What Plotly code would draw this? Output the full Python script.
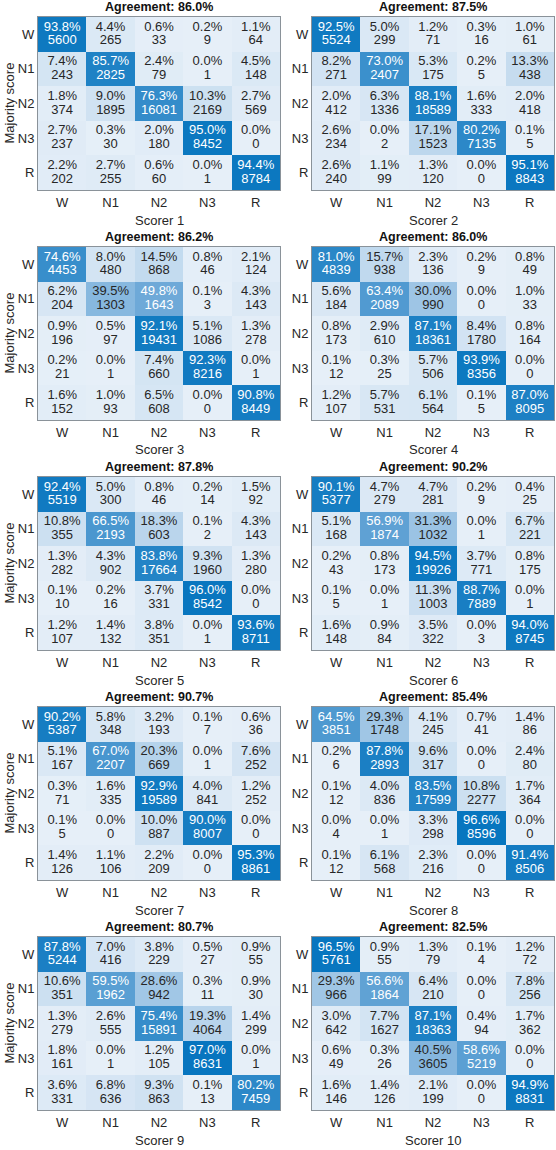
import plotly.graph_objects as go

stages = ["W", "N1", "N2", "N3", "R"]
scorer_names = ["Scorer 1", "Scorer 2", "Scorer 3", "Scorer 4", "Scorer 5",
                "Scorer 6", "Scorer 7", "Scorer 8", "Scorer 9", "Scorer 10"]
agreement = [86.0, 87.5, 86.2, 86.0, 87.8, 90.2, 90.7, 85.4, 80.7, 82.5]

# counts: rows = majority score (W,N1,N2,N3,R), cols = scorer
counts_s1 = [[5600, 265, 33, 9, 64], [243, 2825, 79, 1, 148], [374, 1895, 16081, 2169, 569],
             [237, 30, 180, 8452, 0], [202, 255, 60, 1, 8784]]
counts_s2 = [[5524, 299, 71, 16, 61], [271, 2407, 175, 5, 438], [412, 1336, 18589, 333, 418],
             [234, 2, 1523, 7135, 5], [240, 99, 120, 0, 8843]]
counts_s3 = [[4453, 480, 868, 46, 124], [204, 1303, 1643, 3, 143], [196, 97, 19431, 1086, 278],
             [21, 1, 660, 8216, 1], [152, 93, 608, 0, 8449]]
counts_s4 = [[4839, 938, 136, 9, 49], [184, 2089, 990, 0, 33], [173, 610, 18361, 1780, 164],
             [12, 25, 506, 8356, 0], [107, 531, 564, 5, 8095]]
counts_s5 = [[5519, 300, 46, 14, 92], [355, 2193, 603, 2, 143], [282, 902, 17664, 1960, 280],
             [10, 16, 331, 8542, 0], [107, 132, 351, 1, 8711]]
counts_s6 = [[5377, 279, 281, 9, 25], [168, 1874, 1032, 1, 221], [43, 173, 19926, 771, 175],
             [5, 1, 1003, 7889, 1], [148, 84, 322, 3, 8745]]
counts_s7 = [[5387, 348, 193, 7, 36], [167, 2207, 669, 1, 252], [71, 335, 19589, 841, 252],
             [5, 0, 887, 8007, 0], [126, 106, 209, 0, 8861]]
counts_s8 = [[3851, 1748, 245, 41, 86], [6, 2893, 317, 0, 80], [12, 836, 17599, 2277, 364],
             [4, 1, 298, 8596, 0], [12, 568, 216, 0, 8506]]
counts_s9 = [[5244, 416, 229, 27, 55], [351, 1962, 942, 11, 30], [279, 555, 15891, 4064, 299],
             [161, 1, 105, 8631, 1], [331, 636, 863, 13, 7459]]
counts_s10 = [[5761, 55, 79, 4, 72], [966, 1864, 210, 0, 256], [642, 1627, 18363, 94, 362],
              [49, 26, 3605, 5219, 0], [146, 126, 199, 0, 8831]]

all_counts = [counts_s1, counts_s2, counts_s3, counts_s4, counts_s5,
              counts_s6, counts_s7, counts_s8, counts_s9, counts_s10]

W, H = 556, 1150
FONT = "Liberation Sans, Arial, sans-serif"
colorscale = [[0.0, "#e6eff8"], [0.5, "#6ea9d8"], [1.0, "#0072bd"]]
idx = list(range(len(stages)))

fig = go.Figure()
annotations = []

for k, counts in enumerate(all_counts):
    row, col = k // 2, k % 2
    x0 = 38 if col == 0 else 312
    x1 = x0 + 242
    ytop = 17 + 230 * row
    ybot = 190 + 230 * row
    xd = [x0 / W, x1 / W]
    yd = [1 - ybot / H, 1 - ytop / H]
    ax = "" if k == 0 else str(k + 1)

    pct = []
    for r in counts:
        s = sum(r)
        pct.append([v / s * 100 for v in r])
    z = [[p / 100 for p in r] for r in pct]

    fig.add_trace(go.Heatmap(
        z=z, x=idx, y=idx, zmin=0, zmax=1, colorscale=colorscale,
        showscale=False, hoverinfo="skip", xgap=0, ygap=0,
        xaxis="x" + ax, yaxis="y" + ax))

    tx, ty1, ty2, t1, t2, tc = [], [], [], [], [], []
    for i in idx:
        for j in idx:
            tx.append(j)
            ty1.append(i - 0.2)
            ty2.append(i + 0.2)
            t1.append(f"{pct[i][j]:.1f}%")
            t2.append(f"{counts[i][j]}")
            tc.append("white" if pct[i][j] > 45 else "#262626")
    for ty, tt in ((ty1, t1), (ty2, t2)):
        fig.add_trace(go.Scatter(
            x=tx, y=ty, text=tt, mode="text", hoverinfo="skip", showlegend=False,
            textfont=dict(family=FONT, size=13, color=tc), cliponaxis=False,
            xaxis="x" + ax, yaxis="y" + ax))

    fig.update_layout(**{
        "xaxis" + ax: dict(domain=xd, anchor="y" + ax, showline=True, mirror=True,
                           linecolor="#8a9299", linewidth=1, ticks="", showgrid=False,
                           zeroline=False, tickfont=dict(family=FONT, size=13, color="#262626"),
                           tickmode="array", tickvals=idx, ticktext=stages,
                           range=[-0.5, 4.5], fixedrange=True),
        "yaxis" + ax: dict(domain=yd, anchor="x" + ax, showline=True, mirror=True,
                           linecolor="#8a9299", linewidth=1, ticks="", showgrid=False,
                           zeroline=False, tickfont=dict(family=FONT, size=13, color="#262626"),
                           tickmode="array", tickvals=idx, ticktext=stages,
                           range=[4.5, -0.5], fixedrange=True),
    })

    cx = (x0 + x1) / 2 / W
    annotations.append(dict(text=f"<b>Agreement: {agreement[k]:.1f}%</b>", x=cx,
                            y=1 - (7 + 230 * row) / H, xref="paper", yref="paper",
                            showarrow=False, font=dict(family=FONT, size=12.5, color="#111"),
                            xanchor="center", yanchor="middle"))
    annotations.append(dict(text=scorer_names[k], x=cx, y=1 - (220 + 230 * row) / H,
                            xref="paper", yref="paper", showarrow=False,
                            font=dict(family=FONT, size=13, color="#262626"),
                            xanchor="center", yanchor="middle"))
    if col == 0:
        annotations.append(dict(text="Majority score", x=9 / W,
                                y=1 - ((ytop + ybot) / 2) / H, xref="paper", yref="paper",
                                showarrow=False, textangle=-90,
                                font=dict(family=FONT, size=13, color="#262626"),
                                xanchor="center", yanchor="middle"))

fig.update_layout(width=W, height=H, margin=dict(l=0, r=0, t=0, b=0),
                  paper_bgcolor="white", plot_bgcolor="white",
                  annotations=annotations, showlegend=False)

fig.write_html("out.html", config={"displayModeBar": False, "staticPlot": True},
               post_script="document.body.style.margin='0';")
